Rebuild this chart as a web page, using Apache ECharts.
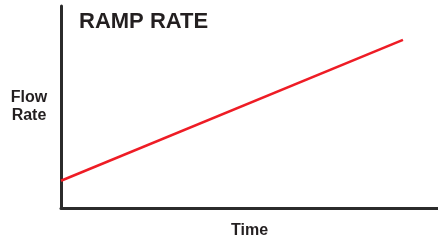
<!DOCTYPE html>
<html lang="en">

<head>
    <meta charset="UTF-8">
    <title>Ramp Rate</title>
    <script src="https://cdnjs.cloudflare.com/ajax/libs/echarts/6.0.0/echarts.min.js"></script>
</head>
<style>
    html,
    body {
        margin: 0;
        padding: 0;
        background: #fff;
    }
</style>

<body>
    <div id="main" style="width: 438px;height:241px;"></div>
</body>
<script>
    // ramp: flow rate rises linearly over time
    var timeVals = [0, 90.7];
    var flowVals = [13.5, 83.2];

    var chart = echarts.init(document.getElementById('main'));

    var font = "'Liberation Sans', Arial, sans-serif";
    var ink = '#231f20';

    var option = {
        animation: false,
        title: {
            text: 'RAMP RATE',
            left: 79,
            top: 11,
            padding: 0,
            textStyle: { fontFamily: font, fontSize: 22, fontWeight: 900, color: ink }
        },
        grid: { left: 61, right: 0, top: 6, bottom: 33, outerBoundsMode: 'none', containLabel: false },
        xAxis: {
            type: 'value',
            min: 0,
            max: 100,
            name: 'Time',
            nameLocation: 'middle',
            nameGap: 15,
            nameTextStyle: { fontFamily: font, fontSize: 16, fontWeight: 'bold', color: ink },
            axisLine: { show: true, lineStyle: { color: '#2b2b2b', width: 3 } },
            axisTick: { show: false },
            axisLabel: { show: false },
            splitLine: { show: false }
        },
        yAxis: {
            type: 'value',
            min: 0,
            max: 100,
            name: 'Flow\nRate',
            nameLocation: 'middle',
            nameRotate: 0,
            nameGap: 32,
            nameTextStyle: { fontFamily: font, fontSize: 16, fontWeight: 'bold', color: ink, lineHeight: 18, align: 'center' },
            axisLine: { show: true, lineStyle: { color: '#2b2b2b', width: 3 } },
            axisTick: { show: false },
            axisLabel: { show: false },
            splitLine: { show: false }
        },
        series: [
            {
                type: 'line',
                data: timeVals.map((t, i) => [t, flowVals[i]]),
                symbol: 'none',
                lineStyle: { color: '#ee1c25', width: 2.5 }
            }
        ]
    };

    chart.setOption(option);
</script>

</html>
